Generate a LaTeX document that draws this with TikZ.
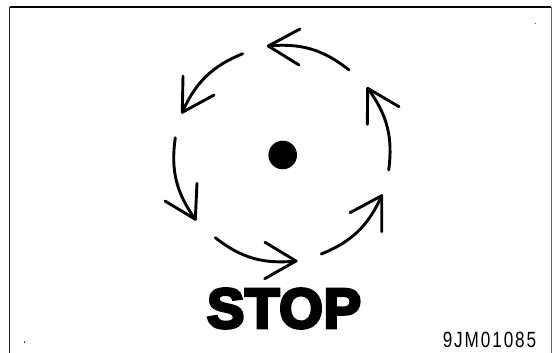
\documentclass[tikz,border=0pt]{standalone}
\usepackage{fontspec}
\setmainfont{Liberation Sans}
\newfontfamily\stopfont[FakeBold=5.5,LetterSpace=1.5]{Liberation Sans Bold}
\newfontfamily\codefont[LetterSpace=11]{Liberation Sans}
\begin{document}
\begin{tikzpicture}[x=1pt,y=-1pt,
  curvearrow/.style={line width=2.9pt,line cap=round,line join=round},
  barb/.style={line width=2.9pt,line cap=round,line join=round},
  frameline/.style={line width=1.5pt},
  speck/.style={fill=black!70,inner sep=0pt,minimum size=1.2pt,shape=rectangle}]
\useasboundingbox (0,0) rectangle (552,353);
\fill[white] (0,0) rectangle (552,353);
\coordinate (fa) at (9.5,353);
\coordinate (fb) at (9.5,7);
\coordinate (fc) at (551,7);
\coordinate (fd) at (551,353);
\draw[frameline,black!85] (fa) -- (fb);
\draw[frameline] (fb) -- (fc);
\draw[line width=1pt,black!60] (fc) -- (fd);
\node[speck] (s1) at (24.5,342) {};
\node[speck] (s2) at (535.5,23.5) {};
\node[circle,fill=black,inner sep=0pt,minimum size=28.6pt] (hub) at (282.7,155) {};
\coordinate (a1) at (349,70);
\coordinate (t1) at (268.3,46);
\coordinate (b1a) at (300,29);
\coordinate (b1b) at (299,65);
\coordinate (a2) at (242.7,53.7);
\coordinate (t2) at (182.3,112.3);
\coordinate (b2a) at (183,76);
\coordinate (b2b) at (214,95);
\coordinate (a3) at (175.3,137.7);
\coordinate (t3) at (195.3,219.3);
\coordinate (b3a) at (197,183.3);
\coordinate (b3b) at (165,201);
\coordinate (a4) at (215.3,237.7);
\coordinate (t4) at (296,261);
\coordinate (b4a) at (265,242.3);
\coordinate (b4b) at (264.7,278.7);
\coordinate (a5) at (321.3,254);
\coordinate (t5) at (381.7,195.7);
\coordinate (b5a) at (350,212.7);
\coordinate (b5b) at (381.7,231.7);
\coordinate (a6) at (388.7,170);
\coordinate (t6) at (367.7,88.3);
\coordinate (b6a) at (367.3,124.3);
\coordinate (b6b) at (399,106.7);
\foreach \i in {1,...,6}{
  \draw[curvearrow] (a\i) to[bend right=22] (t\i);
  \draw[barb] (b\i a) -- (t\i) -- (b\i b);
}
\node[inner sep=0pt,anchor=center,font=\stopfont\fontsize{56}{56}\selectfont] (stop) at (284,308.5) {STOP};
\node[inner sep=0pt,anchor=center,font=\codefont\fontsize{22}{22}\selectfont,xscale=0.78] (code) at (489.5,340) {9JM01085};
\end{tikzpicture}
\end{document}
